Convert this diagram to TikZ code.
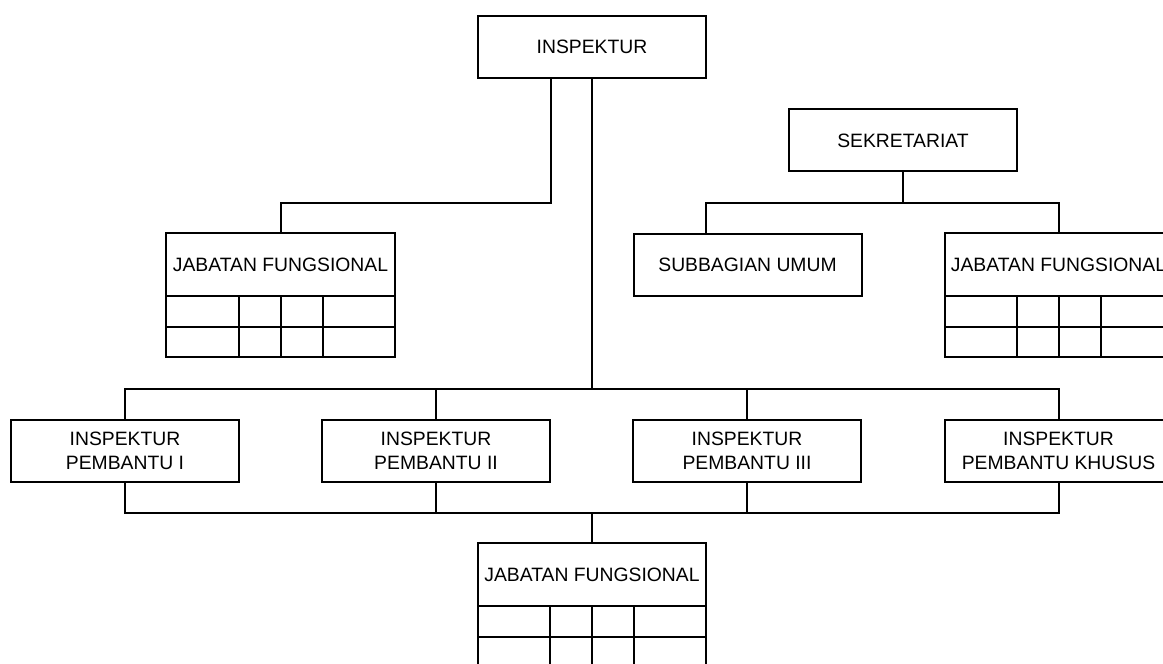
\documentclass[tikz,border=0pt]{standalone}
\usepackage{fontspec}
\setmainfont{Liberation Sans}
\usepackage{tikz}
\usetikzlibrary{positioning,calc}

\begin{document}
\begin{tikzpicture}[
    x=0.2mm, y=-0.2mm,
    line width=0.4mm,
    unit/.style={rectangle, draw, fill=white, minimum width=45.6mm, minimum height=12.4mm, align=center, inner sep=0pt, outer sep=0pt, font=\fontsize{11pt}{14pt}\selectfont},
    jabatan/.style={unit, minimum height=12.6mm},
    link/.style={line width=0.4mm}
]
\clip (0,0) rectangle (1163,664);

% --- Top ---
\node[unit] (insp) at (592,47) {INSPEKTUR};
\node[unit] (sek) at (903,140.5) {SEKRETARIAT};

% --- Staff units ---
\node[jabatan] (jf1) at (280.5,264.5) {JABATAN FUNGSIONAL};
\node[unit] (sub) at (747.5,265) {SUBBAGIAN UMUM};
\node[jabatan] (jf2) at (1058.5,264.5) {JABATAN FUNGSIONAL};

% --- Inspektur pembantu ---
\node[unit] (ip1) at (125,451) {INSPEKTUR\\PEMBANTU I};
\node[unit] (ip2) at (436,451) {INSPEKTUR\\PEMBANTU II};
\node[unit] (ip3) at (747,451) {INSPEKTUR\\PEMBANTU III};
\node[unit] (ipk) at (1058.5,451) {INSPEKTUR\\PEMBANTU KHUSUS};

% --- Bottom ---
\node[jabatan] (jf3) at (592,574.5) {JABATAN FUNGSIONAL};

% --- Tables under jabatan fungsional ---
\foreach \t in {jf1,jf2,jf3} {
  \draw (\t.south west) rectangle ([yshift=-12.2mm]\t.south east);
  \draw ([yshift=-6.2mm]\t.south west) -- ([yshift=-6.2mm]\t.south east);
  \foreach \c in {14.4,22.8,31.2}
    \draw ([xshift=\c mm]\t.south west) -- ++(0,-12.2mm);
}

% --- Lines ---
\draw[link] ([xshift=-8.3mm]insp.south) -- ++(0,125) -| (jf1.north);

\draw[link] (sek.south) -- ++(0,31.5) coordinate (sekbus);
\draw[link] (sekbus) -| ([xshift=-8.3mm]sub.north);
\draw[link] (sekbus) -| (jf2.north);

\draw[link] (insp.south) -- ++(0,311) coordinate (topbus);
\foreach \n in {ip1,ip2,ip3,ipk}
  \draw[link] (topbus) -| (\n.north);

\draw[link] (jf3.north) -- ++(0,-30) coordinate (botbus);
\foreach \n in {ip1,ip2,ip3,ipk}
  \draw[link] (botbus) -| (\n.south);

\end{tikzpicture}
\end{document}
